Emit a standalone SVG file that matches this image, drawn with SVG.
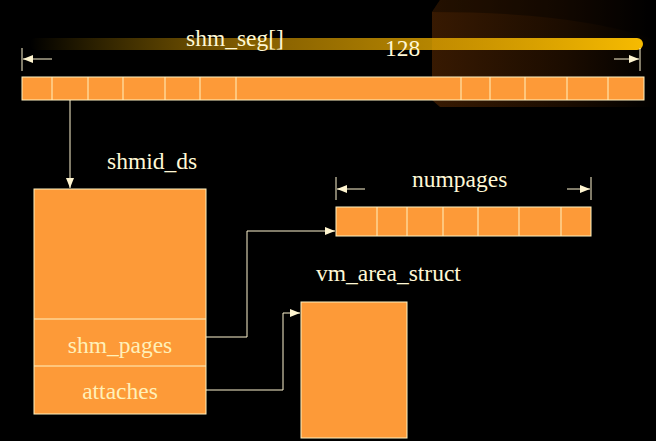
<svg xmlns="http://www.w3.org/2000/svg" width="656" height="441" viewBox="0 0 656 441">
<style>
.cell{fill:#FD9A38;stroke:#FFF2C0;stroke-width:1}
.div{stroke:#FFF2C0;stroke-width:1}
.ln{fill:none;stroke:#FFF5D0;stroke-width:1}
.t{font-family:"Liberation Serif","Times New Roman",serif;font-size:23.5px;fill:#FFF8D6}
.ti{font-family:"Liberation Serif","Times New Roman",serif;font-size:23.5px;fill:#FFF0B8;text-anchor:middle}
</style>
<defs>
<linearGradient id="glow" x1="0" y1="0" x2="1" y2="0">
<stop offset="0" stop-color="#F7B900" stop-opacity="0"/>
<stop offset="0.35" stop-color="#D89A00" stop-opacity="0.6"/>
<stop offset="1" stop-color="#F7BB00"/>
</linearGradient>
<linearGradient id="brown" x1="0" y1="0" x2="1" y2="0">
<stop offset="0" stop-color="#4A2202"/>
<stop offset="0.6" stop-color="#241000"/>
<stop offset="1" stop-color="#000"/>
</linearGradient>
<marker id="ah" viewBox="0 0 10 8" refX="10" refY="4" markerWidth="10" markerHeight="8" markerUnits="userSpaceOnUse" orient="auto">
<path d="M0,0 L10,4 L0,8 Z" fill="#FFF5D0"/>
</marker>
</defs>
<rect width="656" height="441" fill="#000"/>
<g id="background">
<path d="M432,12 L440,0 L656,0 L656,107 L440,107 L432,100 Z" fill="url(#brown)" opacity="0.75"/>
<path d="M432,12 C520,12 600,20 656,40 L656,0 L440,0 Z" fill="#000" opacity="0.35"/>
<rect x="30" y="38" width="613" height="12" rx="6" fill="url(#glow)"/>
</g>
<g id="shm_seg">
<rect class="cell" x="22" y="77" width="622" height="23"/>
<path class="div" d="M52,77V100M88,77V100M123,77V100M165,77V100M200,77V100M236,77V100M461,77V100M490,77V100M525,77V100M567,77V100M608,77V100"/>
<text class="t" x="186" y="46">shm_seg[]</text>
<text class="t" x="385" y="56">128</text>
<path class="ln" d="M22,48V71M640,48V71"/>
<line class="ln" x1="52" y1="59" x2="23" y2="59" marker-end="url(#ah)"/>
<line class="ln" x1="614" y1="59" x2="639" y2="59" marker-end="url(#ah)"/>
</g>
<g id="shmid_ds">
<text class="t" x="107" y="169">shmid_ds</text>
<rect class="cell" x="34" y="189" width="172" height="225"/>
<path class="div" d="M34,319H206M34,366H206"/>
<text class="ti" x="120" y="353">shm_pages</text>
<text class="ti" x="120" y="399">attaches</text>
</g>
<g id="numpages">
<rect class="cell" x="336" y="207" width="255" height="29"/>
<path class="div" d="M377,207V236M407,207V236M443,207V236M478,207V236M519,207V236M561,207V236"/>
<text class="t" x="412" y="187">numpages</text>
<path class="ln" d="M336,177V200M591,177V200"/>
<line class="ln" x1="365" y1="189" x2="337" y2="189" marker-end="url(#ah)"/>
<line class="ln" x1="567" y1="189" x2="590" y2="189" marker-end="url(#ah)"/>
</g>
<g id="vm_area_struct">
<text class="t" x="316" y="281">vm_area_struct</text>
<rect class="cell" x="301" y="302" width="106" height="136"/>
</g>
<g id="connectors">
<line class="ln" x1="70" y1="100" x2="70" y2="188" marker-end="url(#ah)"/>
<polyline class="ln" points="206,337 247,337 247,231 335,231" marker-end="url(#ah)"/>
<polyline class="ln" points="206,390 283,390 283,313 300,313" marker-end="url(#ah)"/>
</g>
</svg>
